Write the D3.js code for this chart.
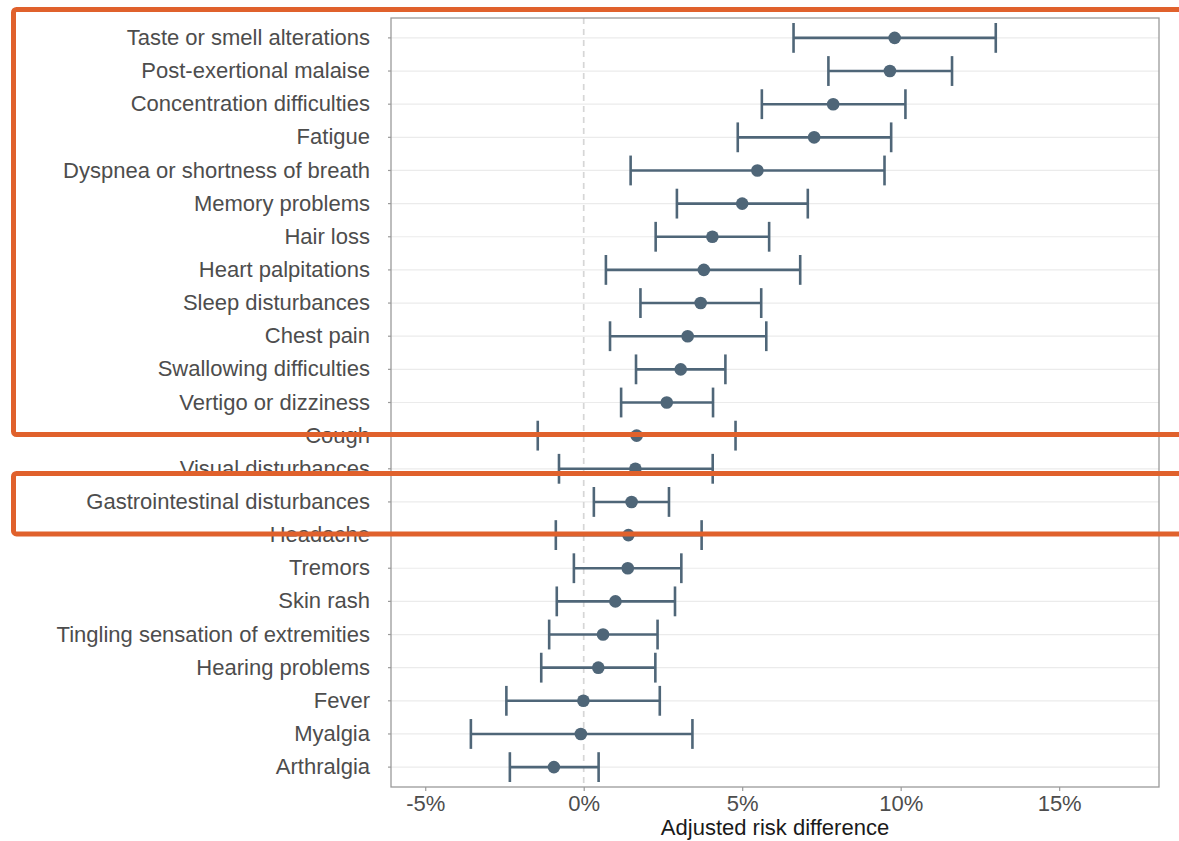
<!DOCTYPE html>
<html>
<head>
<meta charset="utf-8">
<script src="https://cdn.jsdelivr.net/npm/d3@7/dist/d3.min.js"></script>
<style>
  html, body { margin: 0; padding: 0; background: #fff; }
  svg { display: block; font-family: "Liberation Sans", Arial, Helvetica, sans-serif; }
</style>
</head>
<body>
<svg id="chart" width="1179" height="841"></svg>
<script>
// Symptoms, top to bottom
const symptoms = [
  "Taste or smell alterations", "Post-exertional malaise", "Concentration difficulties",
  "Fatigue", "Dyspnea or shortness of breath", "Memory problems", "Hair loss",
  "Heart palpitations", "Sleep disturbances", "Chest pain", "Swallowing difficulties",
  "Vertigo or dizziness", "Cough", "Visual disturbances", "Gastrointestinal disturbances",
  "Headache", "Tremors", "Skin rash", "Tingling sensation of extremities",
  "Hearing problems", "Fever", "Myalgia", "Arthralgia"
];
// Adjusted risk difference (%) with 95% CI
const estimate = [9.81, 9.66, 7.87, 7.27, 5.48, 5.00, 4.06, 3.79, 3.69, 3.28, 3.06, 2.62,
                  1.67, 1.63, 1.51, 1.41, 1.39, 1.00, 0.61, 0.46, -0.01, -0.09, -0.94];
const lower    = [6.62, 7.72, 5.62, 4.86, 1.48, 2.94, 2.27, 0.70, 1.79, 0.83, 1.65, 1.18,
                  -1.45, -0.78, 0.32, -0.88, -0.31, -0.85, -1.09, -1.34, -2.44, -3.56, -2.33];
const upper    = [13.00, 11.62, 10.15, 9.70, 9.49, 7.07, 5.85, 6.83, 5.60, 5.76, 4.47, 4.08,
                  4.79, 4.07, 2.69, 3.72, 3.08, 2.88, 2.33, 2.26, 2.40, 3.43, 0.47];
const xTicks = [-5, 0, 5, 10, 15];
// Highlighted groups (first and last symptom in each group)
const highlightGroups = [
  ["Taste or smell alterations", "Vertigo or dizziness"],
  ["Gastrointestinal disturbances", "Gastrointestinal disturbances"]
];

const rows = symptoms.map((s, i) => ({ s, est: estimate[i], lo: lower[i], hi: upper[i] }));

const svg = d3.select("#chart");
const panel = { left: 391, right: 1159, top: 18, bottom: 787 };

const x = d3.scaleLinear().domain([-6.08, 18.15]).range([panel.left, panel.right]);
const y = d3.scaleBand().domain(symptoms).range([panel.top, panel.bottom])
  .paddingOuter(0.1).paddingInner(0);
const yc = s => y(s) + y.bandwidth() / 2;

const markColor = "#4f6678";
const textColor = "#4d4d4d";
const fontSize = "22px";

// horizontal grid lines
svg.append("g").selectAll("line").data(symptoms).join("line")
  .attr("x1", panel.left).attr("x2", panel.right)
  .attr("y1", yc).attr("y2", yc)
  .attr("stroke", "#ebebeb").attr("stroke-width", 1.2);

// reference line at zero
svg.append("line")
  .attr("x1", x(0)).attr("x2", x(0))
  .attr("y1", panel.top).attr("y2", panel.bottom)
  .attr("stroke", "#d6d6d6").attr("stroke-width", 1.7)
  .attr("stroke-dasharray", "6,5");

// error bars
const cap = y.bandwidth() * 0.9 / 2;
const eb = svg.append("g").attr("stroke", markColor).attr("stroke-width", 2.6).attr("fill", "none");
eb.selectAll(".ci").data(rows).join("line")
  .attr("x1", d => x(d.lo)).attr("x2", d => x(d.hi))
  .attr("y1", d => yc(d.s)).attr("y2", d => yc(d.s));
eb.selectAll(".capL").data(rows).join("line")
  .attr("x1", d => x(d.lo)).attr("x2", d => x(d.lo))
  .attr("y1", d => yc(d.s) - cap).attr("y2", d => yc(d.s) + cap);
eb.selectAll(".capR").data(rows).join("line")
  .attr("x1", d => x(d.hi)).attr("x2", d => x(d.hi))
  .attr("y1", d => yc(d.s) - cap).attr("y2", d => yc(d.s) + cap);

// point estimates
svg.append("g").selectAll("circle").data(rows).join("circle")
  .attr("cx", d => x(d.est)).attr("cy", d => yc(d.s)).attr("r", 6.3)
  .attr("fill", markColor);

// panel border
svg.append("rect")
  .attr("x", panel.left).attr("y", panel.top)
  .attr("width", panel.right - panel.left).attr("height", panel.bottom - panel.top)
  .attr("fill", "none").attr("stroke", "#9a9a9a").attr("stroke-width", 1.3);

// x axis
const xAxis = svg.append("g")
  .attr("transform", `translate(0,${panel.bottom})`)
  .call(d3.axisBottom(x).tickValues(xTicks).tickFormat(d => d + "%").tickSize(4).tickPadding(4));
xAxis.select(".domain").remove();
xAxis.selectAll("line").attr("stroke", "#9a9a9a").attr("stroke-width", 1.2);
xAxis.selectAll("text").attr("fill", textColor).style("font-size", fontSize)
  .style("font-family", "'Liberation Sans', Arial, sans-serif");

// y axis
const yAxis = svg.append("g")
  .attr("transform", `translate(${panel.left},0)`)
  .call(d3.axisLeft(y).tickSize(3).tickPadding(18));
yAxis.select(".domain").remove();
yAxis.selectAll("line").attr("stroke", "#9a9a9a").attr("stroke-width", 1.2);
yAxis.selectAll("text").attr("fill", textColor).style("font-size", fontSize)
  .style("font-family", "'Liberation Sans', Arial, sans-serif");

// axis title
svg.append("text")
  .attr("x", (panel.left + panel.right) / 2).attr("y", 835)
  .attr("text-anchor", "middle").attr("fill", "#1a1a1a")
  .style("font-size", fontSize)
  .text("Adjusted risk difference");

// highlight boxes
const boxColor = "#e0612c";
const hl = svg.append("g");
highlightGroups.forEach(([a, b]) => {
  const top = yc(a) - 28.5;
  const bottom = yc(b) + 32;
  hl.append("rect")
    .attr("x", 13.5).attr("y", top)
    .attr("width", 1220).attr("height", bottom - top)
    .attr("rx", 3)
    .attr("fill", "none").attr("stroke", boxColor).attr("stroke-width", 5);
});
</script>
</body>
</html>
